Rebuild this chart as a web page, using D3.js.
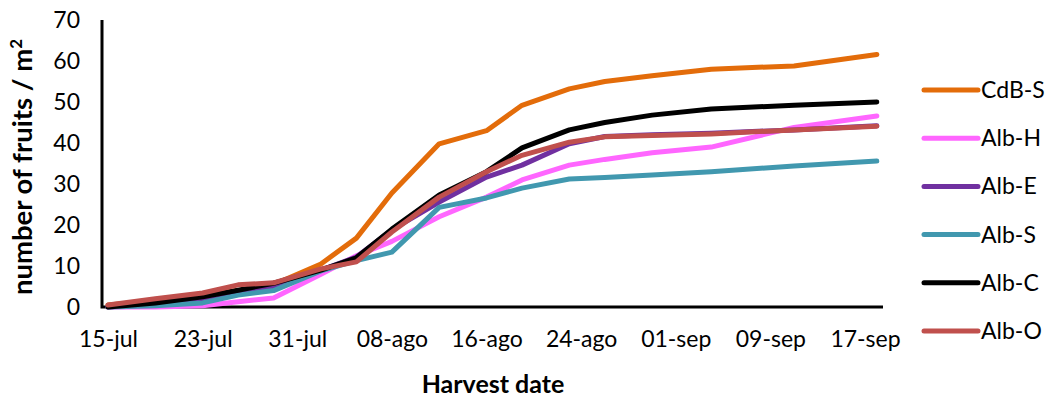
<!DOCTYPE html>
<html><head><meta charset="utf-8">
<script src="https://cdn.jsdelivr.net/npm/d3@7"></script>
<style>
body{margin:0;background:#fff;}
text{font-family:Lato,"Open Sans",sans-serif;fill:#000;}
</style></head>
<body><svg id="c" width="1050" height="403"></svg>
<script>
const dates = ["2014-07-15","2014-07-19","2014-07-23","2014-07-26","2014-07-29","2014-08-02","2014-08-05","2014-08-08","2014-08-12","2014-08-16","2014-08-19","2014-08-23","2014-08-26","2014-08-30","2014-09-04","2014-09-11","2014-09-18"];
const seriesNames = ["CdB-S","Alb-H","Alb-E","Alb-S","Alb-C","Alb-O"];
const seriesColors = ["#E36C0A","#FF66FF","#7030A0","#4198AF","#000000","#C0504D"];
const cdbS = [0.5,1.5,2.8,4.0,5.5,10.5,16.8,27.8,39.8,43.0,49.2,53.2,55.0,56.4,58.0,58.8,61.6];
const albH = [0,0,0.3,1.3,2.2,8.0,12.5,16.0,22.0,26.8,31.0,34.6,36.0,37.6,39.0,43.8,46.6];
const albE = [0,0.8,2.0,3.4,4.9,9.0,12.2,18.8,25.6,31.7,34.6,39.8,41.6,42.0,42.4,43.2,44.2];
const albS = [0,0.3,1.0,2.9,4.0,8.8,11.3,13.4,24.3,26.6,29.0,31.2,31.6,32.2,33.0,34.4,35.6];
const albC = [0,1.0,2.5,4.1,5.8,9.0,12.0,19.0,27.3,33.0,38.8,43.2,45.0,46.8,48.3,49.2,50.0];
const albO = [0.5,2.0,3.4,5.4,5.9,9.3,11.0,18.3,26.8,33.0,37.0,40.2,41.5,41.8,42.2,43.2,44.1];
const seriesValues = [cdbS,albH,albE,albS,albC,albO];
const tickDates = ["2014-07-15","2014-07-23","2014-07-31","2014-08-08","2014-08-16","2014-08-24","2014-09-01","2014-09-09","2014-09-17"];
const tickLabels = ["15-jul","23-jul","31-jul","08-ago","16-ago","24-ago","01-sep","09-sep","17-sep"];
const yTicks = [0,10,20,30,40,50,60,70];

const svg = d3.select("#c");
const parse = d3.utcParse("%Y-%m-%d");
const x = d3.scaleUtc().domain([parse(tickDates[0]), parse(tickDates[tickDates.length-1])]).range([108,865]);
const y = d3.scaleLinear().domain([0,70]).range([307,20]);

// axes
const xAxis = d3.axisBottom(x).tickValues(tickDates.map(parse)).tickFormat((d,i)=>tickLabels[i]).tickSize(0).tickPadding(24);
const gx = svg.append("g").attr("transform","translate(0,307)").call(xAxis);
gx.select(".domain").remove();
gx.selectAll("text").style("font-size","23px").style("font-family","Lato");

const yAxis = d3.axisLeft(y).tickValues(yTicks).tickSize(0).tickPadding(22);
const gy = svg.append("g").attr("transform","translate(102,0)").call(yAxis);
gy.select(".domain").remove();
gy.selectAll("text").style("font-size","23px").style("font-family","Lato");

svg.append("path").attr("d",`M102,${y(70)}V${y(0)}H883`).attr("fill","none").attr("stroke","#000").attr("stroke-width",3);

// lines
const line = d3.line().x((d,i)=>x(parse(dates[i]))).y(d=>y(d));
seriesValues.forEach((vals,k)=>{
  svg.append("path").datum(vals).attr("d",line).attr("fill","none")
    .attr("stroke",seriesColors[k]).attr("stroke-width",5)
    .attr("stroke-linejoin","round").attr("stroke-linecap","round");
});

// legend
const lg = svg.append("g");
seriesNames.forEach((n,k)=>{
  const yy = 90 + k*48.2;
  lg.append("line").attr("x1",924).attr("x2",978).attr("y1",yy).attr("y2",yy)
    .attr("stroke",seriesColors[k]).attr("stroke-width",5).attr("stroke-linecap","round");
  lg.append("text").attr("x",981).attr("y",yy).attr("dy","0.35em").style("font-size","23px").text(n);
});

// titles
svg.append("text").attr("x",493).attr("y",393).attr("text-anchor","middle")
  .style("font-size","25px").style("font-weight","bold").text("Harvest date");
const yt = svg.append("text").attr("transform","translate(32,167) rotate(-90)").attr("text-anchor","middle")
  .style("font-size","27.5px").style("font-weight","bold");
yt.append("tspan").text("number of fruits / m");
yt.append("tspan").attr("dy","-10").style("font-size","17px").text("2");
</script></body></html>
